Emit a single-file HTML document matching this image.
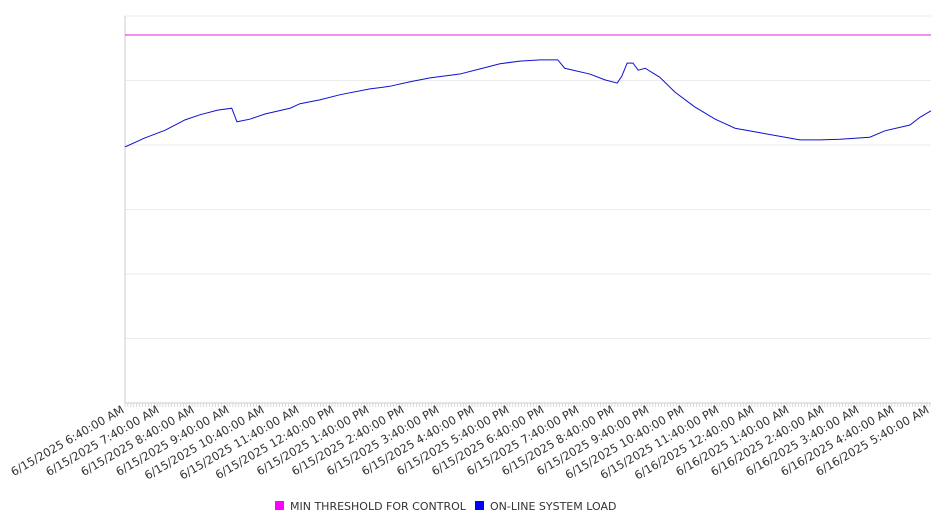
<!DOCTYPE html>
<html><head><meta charset="utf-8"><style>
body{margin:0;background:#fff;font-family:"DejaVu Sans","Liberation Sans",sans-serif}
</style></head><body>
<svg id="c" width="946" height="526" style="display:block"></svg>
<script>
const minutes=[0,34,69,103,129,159,183,192,214,240,283,300,334,369,420,454,489,523,574,609,643,677,712,742,754,797,823,844,852,861,871,880,892,917,943,977,1012,1046,1089,1132,1157,1192,1226,1277,1303,1346,1363,1382];
const loadValues=[3.97,4.11,4.23,4.39,4.47,4.54,4.57,4.36,4.40,4.48,4.57,4.64,4.70,4.78,4.87,4.91,4.98,5.04,5.10,5.18,5.26,5.30,5.32,5.32,5.19,5.10,5.01,4.96,5.07,5.27,5.27,5.16,5.19,5.05,4.82,4.59,4.40,4.26,4.19,4.12,4.08,4.08,4.09,4.12,4.22,4.31,4.43,4.53];
const thresholdValue=5.705;
const tickLabels=["6/15/2025 6:40:00 AM","6/15/2025 7:40:00 AM","6/15/2025 8:40:00 AM","6/15/2025 9:40:00 AM","6/15/2025 10:40:00 AM","6/15/2025 11:40:00 AM","6/15/2025 12:40:00 PM","6/15/2025 1:40:00 PM","6/15/2025 2:40:00 PM","6/15/2025 3:40:00 PM","6/15/2025 4:40:00 PM","6/15/2025 5:40:00 PM","6/15/2025 6:40:00 PM","6/15/2025 7:40:00 PM","6/15/2025 8:40:00 PM","6/15/2025 9:40:00 PM","6/15/2025 10:40:00 PM","6/15/2025 11:40:00 PM","6/16/2025 12:40:00 AM","6/16/2025 1:40:00 AM","6/16/2025 2:40:00 AM","6/16/2025 3:40:00 AM","6/16/2025 4:40:00 AM","6/16/2025 5:40:00 AM"];
const yTicks=[0,1,2,3,4,5,6];
const L=125,R=931,T=16,B=403,maxM=1382,maxY=6;
const X=m=>L+m*(R-L)/maxM, Y=v=>B-v*(B-T)/maxY;
const svg=document.getElementById('c'),NS='http://www.w3.org/2000/svg';
function mk(t,a,p){const e=document.createElementNS(NS,t);for(const k in a)e.setAttribute(k,a[k]);(p||svg).appendChild(e);return e;}
yTicks.forEach(v=>{const g=mk('line',{x1:L,x2:R,y1:Y(v),y2:Y(v),stroke:'#ebebeb'});

});
const ax=mk('line',{x1:L,x2:L,y1:T,y2:B,stroke:'#ccc'});


const xa=mk('line',{x1:L,x2:R,y1:B,y2:B,stroke:'#ccc'});


for(let m=0;m<=maxM;m+=5){const t=mk('line',{x1:X(m),x2:X(m),y1:B,y2:B+4,stroke:'#ccc','stroke-width':0.7});

}
tickLabels.forEach((s,i)=>{const x=X(i*60);const t=mk('text',{x:x,y:B+9,'text-anchor':'end','font-size':11.5,fill:'#333',transform:`rotate(-30 ${x} ${B+9})`});t.textContent=s;

});
const th=mk('line',{x1:L,x2:R,y1:Y(thresholdValue),y2:Y(thresholdValue),stroke:'#e020e0','stroke-width':1});


const p=mk('polyline',{points:minutes.map((m,i)=>X(m)+','+Y(loadValues[i])).join(' '),fill:'none',stroke:'#1010d0','stroke-width':1});


[[275,'#ff00ff','MIN THRESHOLD FOR CONTROL','legend-threshold'],[475,'#0000ff','ON-LINE SYSTEM LOAD','legend-load']].forEach(a=>{
const g=mk('g',{});


mk('rect',{x:a[0],y:501,width:9,height:9,fill:a[1]},g);
const t=mk('text',{x:a[0]+15,y:510,'font-size':11,fill:'#333'},g);t.textContent=a[2];});
</script>
</body></html>
